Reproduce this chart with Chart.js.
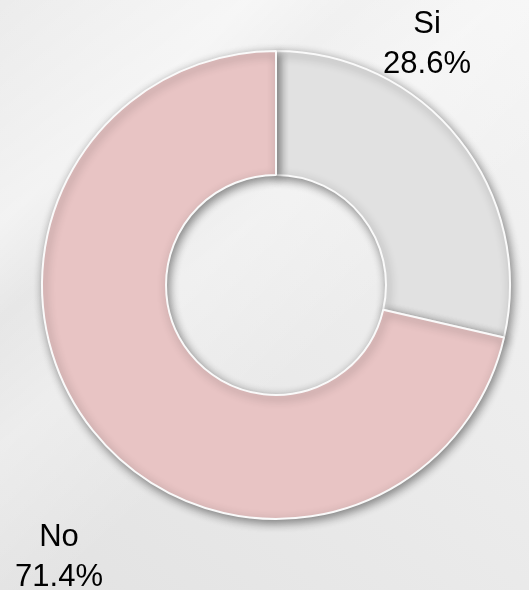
<!DOCTYPE html>
<html>
<head>
<meta charset="utf-8">
<script src="https://cdn.jsdelivr.net/npm/chart.js@4"></script>
<style>
  html, body { margin: 0; padding: 0; background: #ececec; }
  #wrap { width: 529px; height: 590px; position: relative; }
</style>
</head>
<body>
<div id="wrap"><canvas id="donutChart" width="529" height="590"></canvas></div>
<script>
// Data
const categories = ['Si', 'No'];
const percentages = [28.6, 71.4];
const sliceColors = ['#e1e1e1', '#e8c4c4'];

// Background: soft grey gradient with light diagonal streaks
const backgroundPlugin = {
  id: 'bgPlugin',
  beforeDraw(chart) {
    const ctx = chart.ctx;
    const w = chart.width, h = chart.height;
    ctx.save();
    const g = ctx.createLinearGradient(w, 0, 0, h);
    g.addColorStop(0, '#f4f4f4');
    g.addColorStop(0.5, '#ebebeb');
    g.addColorStop(1, '#e2e2e2');
    ctx.fillStyle = g;
    ctx.fillRect(0, 0, w, h);

    // diagonal light bands
    const band = ctx.createLinearGradient(0, 0, w * 0.6, h * 0.6);
    band.addColorStop(0, 'rgba(255,255,255,0)');
    band.addColorStop(0.35, 'rgba(255,255,255,0.45)');
    band.addColorStop(0.5, 'rgba(255,255,255,0)');
    band.addColorStop(0.7, 'rgba(255,255,255,0.3)');
    band.addColorStop(1, 'rgba(255,255,255,0)');
    ctx.fillStyle = band;
    ctx.fillRect(0, 0, w, h);
    ctx.restore();
  }
};

// Soft drop shadow under the ring
const shadowPlugin = {
  id: 'shadowPlugin',
  beforeDatasetDraw(chart) {
    const ctx = chart.ctx;
    ctx.save();
    ctx.shadowColor = 'rgba(0,0,0,0.45)';
    ctx.shadowBlur = 10;
    ctx.shadowOffsetX = 2;
    ctx.shadowOffsetY = 3;
  },
  afterDatasetDraw(chart) {
    chart.ctx.restore();
  }
};

// Outside labels (name + percent)
const labelPlugin = {
  id: 'outsideLabels',
  afterDraw(chart) {
    const ctx = chart.ctx;
    const spots = [
      { x: 427, y: 33 },  // Si
      { x: 59, y: 546 }   // No
    ];
    ctx.save();
    ctx.fillStyle = '#000';
    ctx.font = '31px "Liberation Sans", Arial, sans-serif';
    ctx.textAlign = 'center';
    ctx.textBaseline = 'alphabetic';
    categories.forEach((cat, i) => {
      const p = spots[i];
      ctx.fillText(cat, p.x, p.y);
      ctx.fillText(percentages[i].toFixed(1) + '%', p.x, p.y + 40);
    });
    ctx.restore();
  }
};

new Chart(document.getElementById('donutChart'), {
  type: 'doughnut',
  data: {
    labels: categories,
    datasets: [{
      data: percentages,
      backgroundColor: sliceColors,
      borderColor: '#fafafa',
      borderWidth: 2
    }]
  },
  options: {
    responsive: false,
    animation: false,
    cutout: '47%',
    rotation: 0,
    layout: {
      padding: { left: 39, right: 16, top: 50, bottom: 70 }
    },
    plugins: {
      legend: { display: false },
      tooltip: { enabled: false }
    }
  },
  plugins: [backgroundPlugin, shadowPlugin, labelPlugin]
});
</script>
</body>
</html>
